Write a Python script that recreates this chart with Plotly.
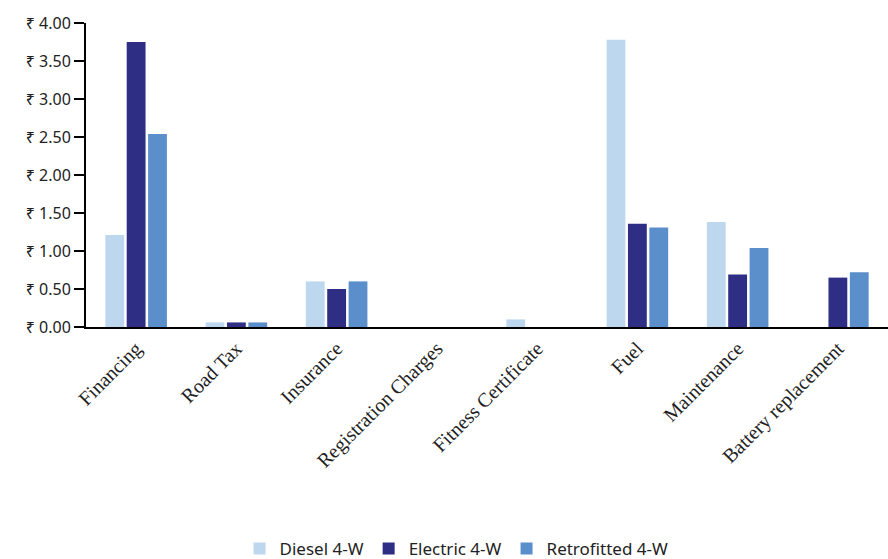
import plotly.graph_objects as go

categories = ["Financing", "Road Tax", "Insurance", "Registration Charges",
              "Fitness Certificate", "Fuel", "Maintenance", "Battery replacement"]
diesel = [1.21, 0.06, 0.60, 0.0, 0.10, 3.78, 1.38, 0.0]
electric = [3.75, 0.06, 0.50, 0.0, 0.0, 1.36, 0.69, 0.65]
retrofitted = [2.54, 0.06, 0.60, 0.0, 0.0, 1.31, 1.04, 0.72]
series_names = ["Diesel 4-W", "Electric 4-W", "Retrofitted 4-W"]
colors = ["#BDD7EE", "#2E2E85", "#5B8FCB"]

fig = go.Figure()
for name, vals, c in zip(series_names, [diesel, electric, retrofitted], colors):
    fig.add_trace(go.Bar(name=name, x=categories, y=vals, marker_color=c,
                         marker_line_width=0))

fig.update_layout(
    width=888, height=559,
    paper_bgcolor="white", plot_bgcolor="white",
    margin=dict(l=86, r=0, t=23, b=232, autoexpand=False),
    barmode="group", bargap=0.36, bargroupgap=0.12,
    font=dict(family="Noto Sans", size=16, color="#222"),
    legend=dict(orientation="h", xanchor="center", x=0.462,
                y=-0.73, yanchor="middle", font=dict(size=17),
                tracegroupgap=0),
)
fig.update_yaxes(range=[0, 4], dtick=0.5, tickformat=".2f", tickprefix="₹ ",
                 showgrid=False, showline=True, linecolor="black", linewidth=2,
                 ticks="outside", ticklen=10, tickcolor="black", tickwidth=2,
                 zeroline=False, tickfont=dict(size=16), automargin=False)
fig.update_xaxes(showline=True, linecolor="black", linewidth=2, ticks="",
                 tickangle=-45, tickfont=dict(family="Liberation Serif", size=20),
                 showgrid=False, automargin=False)

fig.write_html("out.html", config={"displayModeBar": False},
               post_script="document.body.style.margin='0';document.body.style.overflow='hidden';")
